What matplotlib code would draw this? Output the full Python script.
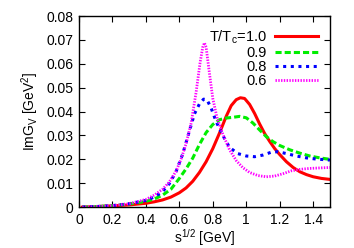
import matplotlib
matplotlib.use("Agg")
import matplotlib.pyplot as plt

plt.rcParams['font.family'] = ['Liberation Sans', 'DejaVu Sans']
plt.rcParams['mathtext.fontset'] = 'custom'
plt.rcParams['mathtext.rm'] = 'Liberation Sans'
plt.rcParams['mathtext.it'] = 'Liberation Sans'

# T/Tc = 1.0
x_10 = [0.02, 0.1, 0.2, 0.3, 0.4, 0.45, 0.5, 0.55, 0.6, 0.64, 0.68, 0.72, 0.76, 0.8, 0.84,
        0.88, 0.91, 0.94, 0.965, 0.99, 1.02, 1.05, 1.08, 1.11, 1.14, 1.17, 1.2, 1.24, 1.28,
        1.32, 1.36, 1.4, 1.45, 1.5]
y_10 = [0.0, 0.0002, 0.0005, 0.0009, 0.0016, 0.0022, 0.0030, 0.0042, 0.0060, 0.0080,
        0.0108, 0.0145, 0.0190, 0.0245, 0.0310, 0.0380, 0.0425, 0.0450, 0.0458, 0.0455,
        0.0430, 0.0392, 0.0348, 0.0308, 0.0275, 0.0245, 0.0220, 0.0190, 0.0166, 0.0148,
        0.0136, 0.0127, 0.0120, 0.0116]

# T/Tc = 0.9
x_09 = [0.02, 0.1, 0.2, 0.3, 0.4, 0.45, 0.5, 0.55, 0.6, 0.64, 0.68, 0.72, 0.76, 0.8, 0.84,
        0.88, 0.92, 0.96, 1.0, 1.04, 1.08, 1.12, 1.16, 1.2, 1.26, 1.32, 1.38, 1.44, 1.5]
y_09 = [0.0, 0.0002, 0.0006, 0.0013, 0.0024, 0.0034, 0.0050, 0.0075, 0.0120, 0.0160,
        0.0205, 0.0262, 0.0312, 0.0346, 0.0366, 0.0373, 0.0376, 0.0380, 0.0374, 0.0352,
        0.0323, 0.0295, 0.0274, 0.0258, 0.0240, 0.0226, 0.0214, 0.0206, 0.0200]

# T/Tc = 0.8
x_08 = [0.02, 0.1, 0.2, 0.3, 0.4, 0.45, 0.5, 0.54, 0.58, 0.62, 0.66, 0.69, 0.72, 0.745,
        0.765, 0.79, 0.82, 0.86, 0.9, 0.95, 1.0, 1.05, 1.1, 1.15, 1.19, 1.24, 1.3, 1.36,
        1.42, 1.5]
y_08 = [0.0, 0.0002, 0.0006, 0.0014, 0.0028, 0.0042, 0.0065, 0.0098, 0.0148, 0.0222,
        0.0318, 0.0390, 0.0432, 0.0452, 0.0450, 0.0415, 0.0358, 0.0300, 0.0250, 0.0224,
        0.0214, 0.0211, 0.0218, 0.0230, 0.0232, 0.0224, 0.0214, 0.0206, 0.0201, 0.0197]

# T/Tc = 0.6
x_06 = [0.02, 0.1, 0.2, 0.3, 0.4, 0.45, 0.5, 0.54, 0.58, 0.61, 0.64, 0.67, 0.70, 0.725,
        0.74, 0.75, 0.76, 0.78, 0.80, 0.825, 0.86, 0.9, 0.94, 0.98, 1.02, 1.07, 1.12, 1.17,
        1.22, 1.27, 1.32, 1.38, 1.44, 1.5]
y_06 = [0.0, 0.0002, 0.0006, 0.0014, 0.0032, 0.0050, 0.0075, 0.0105, 0.0150, 0.0200,
        0.0265, 0.0350, 0.0480, 0.0610, 0.0670, 0.0688, 0.0670, 0.0560, 0.0455, 0.0375,
        0.0305, 0.0240, 0.0195, 0.0165, 0.0145, 0.0132, 0.0127, 0.0130, 0.0140, 0.0152,
        0.0158, 0.0162, 0.0164, 0.0166]

x_ticks = [0, 0.2, 0.4, 0.6, 0.8, 1.0, 1.2, 1.4]
x_tick_labels = ['0', '0.2', '0.4', '0.6', '0.8', '1', '1.2', '1.4']
y_ticks = [0, 0.01, 0.02, 0.03, 0.04, 0.05, 0.06, 0.07, 0.08]
y_tick_labels = ['0', '0.01', '0.02', '0.03', '0.04', '0.05', '0.06', '0.07', '0.08']

fig = plt.figure(figsize=(3.54, 2.48), dpi=100)
ax = fig.add_axes([0.223, 0.165, 0.709, 0.770])

ax.plot(x_10, y_10, color='#ff0000', lw=2.2, ls='-', label='T/T$_\\mathrm{c}$=1.0')
ax.plot(x_09, y_09, color='#00ee00', lw=2.2, ls=(0, (2.0, 1.0)), label='0.9')
ax.plot(x_08, y_08, color='#0000ff', lw=2.2, ls=(0, (1.0, 1.5)), label='0.8')
ax.plot(x_06, y_06, color='#ff00ff', lw=2.0, ls=(0, (0.5, 0.5)), label='0.6')

ax.set_xlim(0, 1.5)
ax.set_ylim(0, 0.08)
ax.set_xticks(x_ticks)
ax.set_xticklabels(x_tick_labels)
ax.set_yticks(y_ticks)
ax.set_yticklabels(y_tick_labels)
ax.tick_params(direction='in', top=True, right=True, length=4, labelsize=10, pad=4)
for s in ax.spines.values():
    s.set_linewidth(1.0)

ax.set_xlabel('s$^{1/2}$ [GeV]', fontsize=10, labelpad=0)
ax.set_ylabel('ImG$_\\mathrm{V}$ [GeV$^2$]', fontsize=10, labelpad=4)

ax.legend(loc='upper right', frameon=False, markerfirst=False, fontsize=10.5,
          handlelength=2.9, labelspacing=0.0, borderaxespad=0.45, borderpad=0.4,
          handletextpad=0.6)

fig.savefig('out.png', dpi=100)
